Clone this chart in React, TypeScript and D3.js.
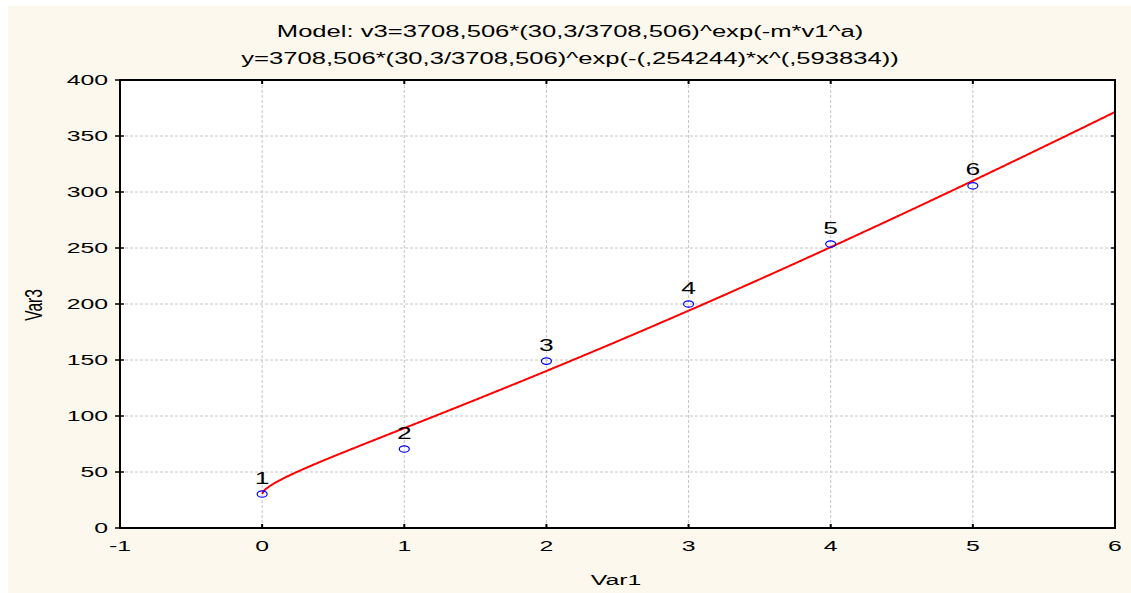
import React from "react";
import * as d3 from "d3";

// ---- data ----
const var1: number[] = [0, 1, 2, 3, 4, 5];
const var3: number[] = [30.3, 70.5, 149, 200, 253.5, 305.5];
const pointLabels: string[] = ["1", "2", "3", "4", "5", "6"];
const xTicks: number[] = [-1, 0, 1, 2, 3, 4, 5, 6];
const yTicks: number[] = [0, 50, 100, 150, 200, 250, 300, 350, 400];
const titleLines: string[] = [
  "Model: v3=3708,506*(30,3/3708,506)^exp(-m*v1^a)",
  "y=3708,506*(30,3/3708,506)^exp(-(,254244)*x^(,593834))",
];
// fitted model parameters (from the title)
const modelB = 3708.506;
const modelY0 = 30.3;
const modelM = 0.254244;
const modelA = 0.593834;

const W = 1131;
const H = 593;
const SX = 1.6; // horizontal stretch of the original picture
const plot = { left: 120, right: 1115, top: 80, bottom: 528 };

const FONT = "'Liberation Sans', Arial, sans-serif";

function STxt(props: {
  x: number;
  y: number;
  size: number;
  anchor?: string;
  children: React.ReactNode;
  rotate?: number;
}) {
  const { x, y, size, anchor = "middle", children, rotate } = props;
  return (
    <text
      transform={`translate(${x},${y}) scale(${SX},1)${rotate ? ` rotate(${rotate})` : ""}`}
      textAnchor={anchor}
      fontFamily={FONT}
      fontSize={size}
      fill="#000"
    >
      {children}
    </text>
  );
}

export default function App() {
  const x = d3.scaleLinear().domain([-1, 6]).range([plot.left, plot.right]);
  const y = d3.scaleLinear().domain([0, 400]).range([plot.bottom, plot.top]);

  const model = (v: number) =>
    modelB * Math.pow(modelY0 / modelB, Math.exp(-modelM * Math.pow(v, modelA)));
  const curveXs = d3.range(0, 6.0001, 0.01);
  const line = d3
    .line<number>()
    .x((d) => x(d))
    .y((d) => y(model(d)));

  return (
    <svg
      width={W}
      height={H}
      style={{ position: "absolute", left: 0, top: 0, display: "block" }}
    >
      <rect x={0} y={0} width={W} height={H} fill="#ffffff" />
      <rect x={8} y={6} width={W - 8} height={H - 6} fill="#fdf8ed" />
      <rect
        x={plot.left}
        y={plot.top}
        width={plot.right - plot.left}
        height={plot.bottom - plot.top}
        fill="#ffffff"
      />
      <defs>
        <clipPath id="plotclip">
          <rect
            x={plot.left}
            y={plot.top}
            width={plot.right - plot.left}
            height={plot.bottom - plot.top}
          />
        </clipPath>
      </defs>
      {/* grid */}
      {xTicks.slice(1, -1).map((t) => (
        <line
          key={"gx" + t}
          x1={x(t)}
          x2={x(t)}
          y1={plot.top}
          y2={plot.bottom}
          stroke="#c4c4c4"
          strokeWidth={1}
          strokeDasharray="3,2"
        />
      ))}
      {yTicks.slice(1, -1).map((t) => (
        <line
          key={"gy" + t}
          x1={plot.left}
          x2={plot.right}
          y1={y(t)}
          y2={y(t)}
          stroke="#c4c4c4"
          strokeWidth={1}
          strokeDasharray="3,2"
        />
      ))}
      {/* curve */}
      <path
        d={line(curveXs) || ""}
        fill="none"
        stroke="#ff0000"
        strokeWidth={2}
        clipPath="url(#plotclip)"
      />
      {/* points */}
      {var1.map((v, i) => (
        <g key={"p" + i}>
          <ellipse
            cx={x(v)}
            cy={y(var3[i])}
            rx={5}
            ry={3.2}
            fill="none"
            stroke="#0000ff"
            strokeWidth={1.2}
          />
          <STxt x={x(v)} y={y(var3[i]) - 10.5} size={16.5}>
            {pointLabels[i]}
          </STxt>
        </g>
      ))}
      {/* frame */}
      <rect
        x={plot.left}
        y={plot.top}
        width={plot.right - plot.left}
        height={plot.bottom - plot.top}
        fill="none"
        stroke="#000"
        strokeWidth={2}
      />
      {/* ticks */}
      {xTicks.map((t) => (
        <g key={"tx" + t}>
          <line x1={x(t)} x2={x(t)} y1={plot.bottom} y2={plot.bottom - 4} stroke="#000" strokeWidth={2} />
          <line x1={x(t)} x2={x(t)} y1={plot.top} y2={plot.top + 4} stroke="#000" strokeWidth={2} />
          <STxt x={x(t)} y={551} size={15.5}>
            {String(t)}
          </STxt>
        </g>
      ))}
      {yTicks.map((t) => (
        <g key={"ty" + t}>
          <line x1={plot.left - 5} x2={plot.left + 4} y1={y(t)} y2={y(t)} stroke="#000" strokeWidth={1.5} />
          <line x1={plot.right} x2={plot.right - 4} y1={y(t)} y2={y(t)} stroke="#000" strokeWidth={1.5} />
          <STxt x={108} y={y(t) + 5} size={15.5} anchor="end">
            {String(t)}
          </STxt>
        </g>
      ))}
      {/* titles */}
      <STxt x={570} y={37} size={16}>
        {titleLines[0]}
      </STxt>
      <STxt x={570} y={64} size={16}>
        {titleLines[1]}
      </STxt>
      <STxt x={616} y={585} size={15.5}>
        Var1
      </STxt>
      <STxt x={42} y={305} size={15.5} rotate={-90}>
        Var3
      </STxt>
    </svg>
  );
}
